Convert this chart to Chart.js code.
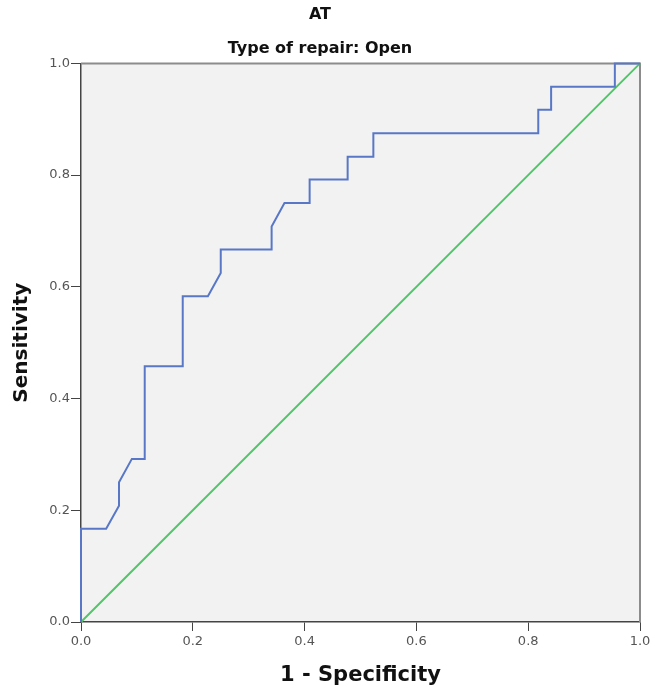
<!DOCTYPE html>
<html>
<head>
<meta charset="utf-8">
<script src="https://cdn.jsdelivr.net/npm/chart.js@4.4.0/dist/chart.umd.min.js"></script>
<style>
  html, body { margin: 0; padding: 0; background: #fff; }
  #wrap { width: 656px; height: 693px; }
</style>
</head>
<body>
<div id="wrap"><canvas id="roc"></canvas></div>
<script>
// ROC curve points (1 - specificity, sensitivity)
const fpr = [0, 0, 0.045, 0.068, 0.068, 0.091, 0.114, 0.114, 0.182, 0.182, 0.227, 0.250, 0.250,
  0.341, 0.341, 0.364, 0.409, 0.409, 0.477, 0.477, 0.523, 0.523, 0.818, 0.818, 0.841, 0.841,
  0.955, 0.955, 1];
const tpr = [0, 0.167, 0.167, 0.208, 0.250, 0.292, 0.292, 0.458, 0.458, 0.583, 0.583, 0.625, 0.667,
  0.667, 0.708, 0.750, 0.750, 0.792, 0.792, 0.833, 0.833, 0.875, 0.875, 0.917, 0.917, 0.958,
  0.958, 1, 1];
// reference line
const refX = [0, 1];
const refY = [0, 1];
const tickLabels = ['0.0', '0.2', '0.4', '0.6', '0.8', '1.0'];

const FONT = "'DejaVu Sans', sans-serif";
const ctx = document.getElementById('roc');

const plotFrame = {
  id: 'plotFrame',
  beforeDraw(chart) {
    const c = chart.ctx;
    const a = chart.chartArea;
    c.save();
    c.fillStyle = '#ffffff';
    c.fillRect(0, 0, chart.width, chart.height);
    c.fillStyle = '#f2f2f2';
    c.fillRect(a.left, a.top, a.right - a.left, a.bottom - a.top);
    c.restore();
  },
  beforeDatasetsDraw(chart) {
    const c = chart.ctx;
    const a = chart.chartArea;
    c.save();
    c.strokeStyle = '#8c8c8c';
    c.lineWidth = 2;
    c.beginPath();
    c.moveTo(a.left, a.top);
    c.lineTo(a.right, a.top);
    c.lineTo(a.right, a.bottom);
    c.stroke();
    c.restore();
  }
};

new Chart(ctx, {
  type: 'scatter',
  data: {
    datasets: [{
      label: 'AT',
      data: fpr.map((x, i) => ({x: x, y: tpr[i]})),
      showLine: true,
      borderColor: '#5877c6',
      borderWidth: 2,
      pointRadius: 0,
      tension: 0,
      clip: 3
    }, {
      label: 'Reference Line',
      data: refX.map((x, i) => ({x: x, y: refY[i]})),
      showLine: true,
      borderColor: '#52c46a',
      borderWidth: 2,
      pointRadius: 0,
      clip: 3
    }]
  },
  options: {
    responsive: true,
    maintainAspectRatio: false,
    animation: false,
    layout: { padding: { left: 0, right: 16, top: 0, bottom: 0 } },
    plugins: {
      legend: { display: false },
      tooltip: { enabled: false },
      title: {
        display: true,
        text: 'AT',
        color: '#111',
        font: { family: FONT, size: 16, weight: 'bold' },
        padding: { top: 5, bottom: 15.5 }
      },
      subtitle: {
        display: true,
        text: 'Type of repair: Open',
        color: '#111',
        font: { family: FONT, size: 16, weight: 'bold' },
        padding: { top: 0, bottom: 4.5 }
      }
    },
    scales: {
      x: {
        type: 'linear',
        min: 0,
        max: 1,
        afterFit(scale) { scale.height = 71; },
        ticks: {
          stepSize: 0.2,
          color: '#555',
          font: { family: FONT, size: 13 },
          padding: 3,
          maxRotation: 0,
          callback: (v, i) => tickLabels[i]
        },
        grid: { drawOnChartArea: false, drawTicks: true, tickLength: 9, color: '#444' },
        border: { display: true, color: '#444', width: 1.5 },
        title: {
          display: true,
          text: '1 - Specificity',
          color: '#111',
          font: { family: FONT, size: 21, weight: 'bold' },
          padding: { top: 0, bottom: 5 }
        }
      },
      y: {
        type: 'linear',
        min: 0,
        max: 1,
        afterFit(scale) { scale.width = 81; },
        ticks: {
          stepSize: 0.2,
          color: '#555',
          font: { family: FONT, size: 13 },
          padding: 1,
          callback: (v, i) => tickLabels[i]
        },
        grid: { drawOnChartArea: false, drawTicks: true, tickLength: 10, color: '#444' },
        border: { display: true, color: '#444', width: 1.5 },
        title: {
          display: true,
          text: 'Sensitivity',
          color: '#111',
          font: { family: FONT, size: 20, weight: 'bold' },
          padding: { top: 10, bottom: 0 }
        }
      }
    }
  },
  plugins: [plotFrame]
});
</script>
</body>
</html>
